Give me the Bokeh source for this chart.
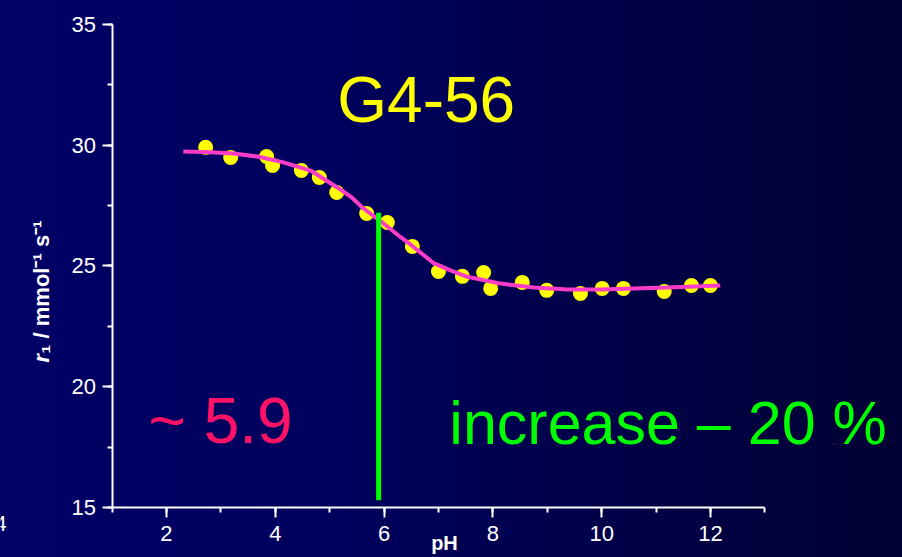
import math
from bokeh.plotting import figure
from bokeh.models import Range1d, SingleIntervalTicker, Label, LinearAxis
from bokeh.embed import file_html
from bokeh.resources import INLINE

# measured data points (pH, r1)
ph_points = [2.72, 3.18, 3.84, 3.95, 4.48, 4.81, 5.13, 5.68, 6.06, 6.52, 7.00,
             7.44, 7.83, 7.96, 8.54, 8.99, 9.61, 10.01, 10.40, 11.15, 11.65, 12.00]
r1_points = [29.91, 29.49, 29.53, 29.16, 28.95, 28.66, 28.04, 27.17, 26.80, 25.81, 24.77,
             24.57, 24.73, 24.07, 24.32, 23.99, 23.86, 24.07, 24.07, 23.94, 24.19, 24.19]

# fitted curve
fit_ph = [2.31, 2.80, 3.23, 3.70, 4.15, 4.65, 5.14, 5.40, 5.62, 5.99, 6.30, 6.49,
          6.91, 7.22, 7.53, 8.14, 8.75, 9.37, 9.98, 10.58, 11.21, 11.70, 12.18]
fit_r1 = [29.74, 29.71, 29.66, 29.52, 29.29, 28.95, 28.25, 27.85, 27.38, 26.76, 26.20, 25.88,
          25.12, 24.82, 24.55, 24.27, 24.11, 24.03, 24.03, 24.07, 24.11, 24.15, 24.19]

# pKa marker
pka_x = [5.9, 5.9]
pka_y = [15.3, 27.2]

x_bounds = (1, 13)
y_bounds = (15, 35)
x_ticks_interval = 2
y_ticks_interval = 5

p = figure(width=902, height=557, output_backend="svg", toolbar_location=None,
           x_range=Range1d(-1.051, 15.53), y_range=Range1d(12.93, 35.99),
           x_axis_location=None, y_axis_location=None,
           min_border=0,
           background_fill_color=None, border_fill_color=None, outline_line_color=None,
           styles={"background": "linear-gradient(to right, #000066 0%, #00005e 35%, #000033 100%)"})

p.xgrid.visible = False
p.ygrid.visible = False

xax = LinearAxis(fixed_location=y_bounds[0], bounds=x_bounds,
                 ticker=SingleIntervalTicker(interval=x_ticks_interval, num_minor_ticks=2))
yax = LinearAxis(fixed_location=x_bounds[0], bounds=y_bounds,
                 ticker=SingleIntervalTicker(interval=y_ticks_interval, num_minor_ticks=2))
for ax in (xax, yax):
    ax.axis_line_color = "white"
    ax.axis_line_width = 2
    ax.major_tick_line_color = "white"
    ax.major_tick_line_width = 2
    ax.minor_tick_line_color = "white"
    ax.minor_tick_line_width = 2
    ax.major_tick_out = 10
    ax.major_tick_in = 0
    ax.minor_tick_out = 5
    ax.minor_tick_in = 0
    ax.major_label_text_color = "white"
    ax.major_label_text_font = "Liberation Sans"
    ax.major_label_text_font_size = "22px"
xax.major_label_standoff = 8
yax.major_label_standoff = 6
p.add_layout(xax, "below")
p.add_layout(yax, "left")

p.scatter(ph_points, r1_points, size=15, color="#ffff00", line_color=None)
p.line(fit_ph, fit_r1, line_color="#ff3cc8", line_width=4)
p.line(pka_x, pka_y, line_color="#00ff00", line_width=5)

p.add_layout(Label(x=5.14, y=30.38, text="G4-56", text_color="#ffff00",
                   text_font="Liberation Sans", text_font_size="64px"))
p.add_layout(Label(x=1.67, y=17.10, text="~ 5.9", text_color="#ff1166",
                   text_font="Liberation Sans", text_font_size="64px"))
p.add_layout(Label(x=7.20, y=17.10, text="increase \u2013 20 %", text_color="#00ff00",
                   text_font="Liberation Sans", text_font_size="61px"))

# axis titles
p.add_layout(Label(x=7.11, y=13.51, text="pH", text_color="white", text_align="center",
                   text_baseline="middle", text_font="Liberation Sans",
                   text_font_style="bold", text_font_size="20px"))
p.add_layout(Label(x=-0.30, y=21.0, text="r", angle=math.pi / 2, text_color="white",
                   text_align="left", text_baseline="middle", text_font="Liberation Sans",
                   text_font_style="bold italic", text_font_size="22px"))
p.add_layout(Label(x=-0.30, y=21.37, text="\u2081 / mmol\u207b\u00b9 s\u207b\u00b9", angle=math.pi / 2,
                   text_color="white", text_align="left", text_baseline="middle",
                   text_font="Liberation Sans", text_font_style="bold", text_font_size="22px"))

# cut-off text at the lower left corner
p.add_layout(Label(x=-1.16, y=14.34, text="4", text_color="white", text_baseline="middle",
                   text_font="Liberation Sans", text_font_size="22px"))

open("out.html", "w").write(file_html(p, INLINE))
